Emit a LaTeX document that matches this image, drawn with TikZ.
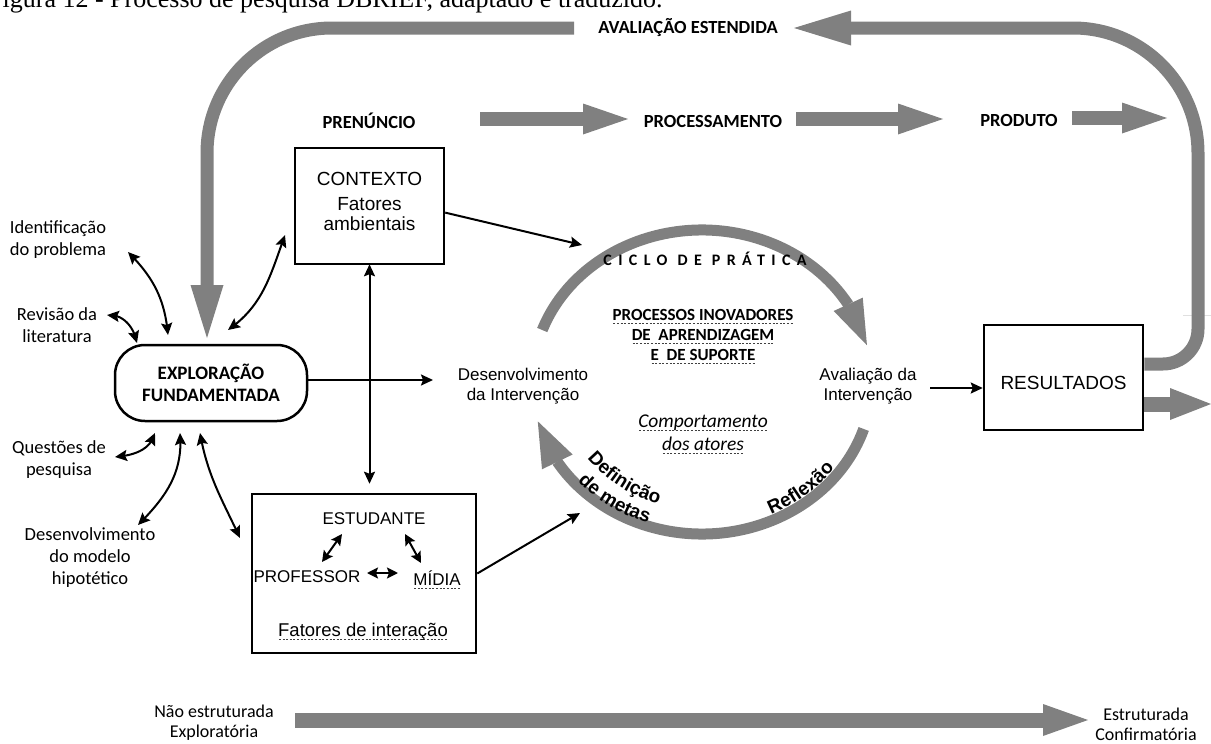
\documentclass[tikz,border=0pt]{standalone}
\usepackage{fontspec}
\setmainfont{Carlito}
\newfontfamily\arialf{Liberation Sans}
\newfontfamily\serifcap{Liberation Serif}
\newfontfamily\spacedf{Carlito}[LetterSpace=40]
\usetikzlibrary{arrows.meta,bending,decorations.text}

\definecolor{bandgray}{RGB}{128,128,128}
\newcommand\sz[2]{\fontsize{#1}{#2}\selectfont}
% dashed underline, as left by a spell checker
\newcommand\dashul[1]{\setbox0=\hbox{#1}\leavevmode\rlap{\raisebox{-3.2pt}{\color{black!75}\hbox to \wd0{\xleaders\hbox to 3.6pt{\hss\rule{2pt}{0.9pt}\hss}\hfill}}}\box0}

\tikzset{
  every node/.style={inner sep=0pt},
  sidelbl/.style={align=center, font=\sz{18.5}{22}},
  headlbl/.style={font=\bfseries\sz{18.5}{22}},
  sanslbl/.style={align=center, font=\arialf\sz{17}{20}},
  boxframe/.style={draw, line width=2.5pt},
  graybar/.style={draw=bandgray, line width=14pt},
  bigtip/.style={-{Triangle[length=45pt,width=31pt,line width=0pt]}},
  linkarrow/.style={line width=2pt, -{Stealth[length=12pt,width=11pt,inset=2pt]}},
  duallink/.style={line width=2pt, {Stealth[length=12pt,width=11pt,inset=2pt]}-{Stealth[length=12pt,width=11pt,inset=2pt]}},
  smalllink/.style={line width=2pt, {Stealth[length=11pt,width=11pt,inset=2pt]}-{Stealth[length=11pt,width=11pt,inset=2pt]}},
  arctext/.style={decorate, decoration={text along path, text align=center, text={|\arialf\bfseries\sz{19}{20}|#1}}}
}

\begin{document}
\begin{tikzpicture}[x=1pt,y=1pt]
\useasboundingbox (0,0) rectangle (1211,-744);

% caption line, partly above the page
\begin{scope}
  \clip (0,0) rectangle (1211,-744);
  \node[anchor=base west, font=\serifcap\sz{26}{30}] (caption) at (-12,-8)
    {Figura 12 - Processo de pesquisa DBRIEF, adaptado e traduzido.};
\end{scope}

% ---------- boxes ----------
\node[boxframe, rounded corners=30pt, minimum width=192pt, minimum height=76pt,
      align=center, font=\bfseries\sz{19}{22}] (expl) at (211,-383) {EXPLORAÇÃO\\FUNDAMENTADA};

\node[boxframe, minimum width=149pt, minimum height=116pt] (ctx) at (369.5,-206) {};
\node[font=\arialf\sz{19}{22}] (ctxt) at (369.5,-179) {CONTEXTO};
\node[align=center, font=\arialf\sz{19}{20}] (ctxf) at (369.5,-214) {Fatores\\ambientais};

\node[boxframe, minimum width=224pt, minimum height=159pt] (inter) at (364,-573.5) {};
\node[font=\arialf\sz{17}{20}] (stud) at (374,-519) {ESTUDANTE};
\node[font=\arialf\sz{17}{20}] (prof) at (307,-577) {PROFESSOR};
\node[font=\arialf\sz{17}{20}] (midia) at (437,-580) {\dashul{MÍDIA}};
\node[font=\arialf\sz{18.5}{20}] (fint) at (363,-632) {\dashul{Fatores de interação}};

\node[boxframe, minimum width=159pt, minimum height=105pt] (res) at (1063.5,-377.5) {};
\node[font=\arialf\sz{19}{22}] (rest) at (1063.5,-383) {RESULTADOS};

% ---------- stage labels ----------
\node[headlbl] (pren) at (369,-121) {PRENÚNCIO};
\node[headlbl] (proc) at (713,-121.5) {PROCESSAMENTO};
\node[headlbl] (prod) at (1019,-121) {PRODUTO};
\node[headlbl] (aval) at (688,-28) {AVALIAÇÃO ESTENDIDA};

% ---------- side labels ----------
\node[sidelbl] (idp) at (58,-240) {Identificação\\do problema};
\node[sidelbl] (revl) at (57,-325) {Revisão da\\literatura};
\node[sidelbl] (qp) at (59,-460) {Questões de\\pesquisa};
\node[sidelbl] (dmh) at (90,-558) {Desenvolvimento\\do modelo\\hipotético};

% ---------- cycle ----------
\coordinate (cyc) at (702,-382);
\draw[bandgray, line width=11pt, -{Triangle[length=45pt,width=32pt,line width=0pt]}]
  ([shift={(160:170pt and 152pt)}]cyc) arc[start angle=160, end angle=14, x radius=170pt, y radius=152pt];
\draw[bandgray, line width=11pt, -{Triangle[length=45pt,width=34pt,line width=0pt]}]
  ([shift={(-18:170pt and 152pt)}]cyc) arc[start angle=-18, end angle=-165, x radius=170pt, y radius=152pt];

\node[font=\spacedf\bfseries\sz{16}{18}] (ciclo) at (705,-259) {CICLO DE PRÁTICA};
\node[align=center, font=\bfseries\sz{17}{20}] (pinov) at (703,-337)
  {\dashul{PROCESSOS INOVADORES}\\\dashul{DE\ \ APRENDIZAGEM}\\\dashul{E\ \ DE SUPORTE}};
\node[align=center, font=\itshape\sz{19.5}{23}] (comp) at (703,-434)
  {\dashul{Comportamento}\\\dashul{dos atores}};
\node[sanslbl] (devi) at (523,-386) {Desenvolvimento\\da Intervenção};
\node[sanslbl] (avi) at (868,-386) {Avaliação da\\Intervenção};

\path[arctext={Definição}]
  ([shift={(204:143pt and 128pt)}]cyc) arc[start angle=204, end angle=264, x radius=143pt, y radius=128pt];
\path[arctext={de metas}]
  ([shift={(206:167pt and 149pt)}]cyc) arc[start angle=206, end angle=266, x radius=167pt, y radius=149pt];
\path[arctext={Reflexão}]
  ([shift={(280:164pt and 146pt)}]cyc) arc[start angle=280, end angle=340, x radius=164pt, y radius=146pt];

% ---------- gray stage arrows ----------
\coordinate (g1s) at (480,-119);  \coordinate (g1e) at (628,-119);
\coordinate (g2s) at (796,-119);  \coordinate (g2e) at (943,-119);
\coordinate (g3s) at (1072,-118); \coordinate (g3e) at (1167,-118);
\draw[graybar, bigtip] (g1s) -- (g1e);
\draw[graybar, bigtip] (g2s) -- (g2e);
\draw[graybar, bigtip] (g3s) -- (g3e);

% extended evaluation loop
\draw[black!12, line width=0.8pt] (1183,-315) -- (1211,-315);
\coordinate (loopend) at (794,-28);
\draw[bandgray, line width=13pt, -{Triangle[length=57pt,width=35pt,line width=0pt]}]
  (res.east |- 0,-364) -- (1163,-364) arc[start angle=-90, end angle=0, radius=35pt]
  -- (1198,-153) arc[start angle=0, end angle=90, radius=125pt] -- (loopend);
\coordinate (loopback) at (574,-28);
\coordinate (fbin) at (207,-338);
\draw[bandgray, line width=13pt, -{Triangle[length=53pt,width=33pt,line width=0pt]}]
  (loopback) -- (332,-28) arc[start angle=90, end angle=180, radius=125pt] -- (fbin);

% outcome arrow
\coordinate (outend) at (1211,-404);
\draw[bandgray, line width=15pt, -{Triangle[length=41pt,width=32pt,line width=0pt]}]
  (res.east |- outend) -- (outend);

% ---------- black connectors ----------
\coordinate (devin) at (433,-380);
\draw[linkarrow] (expl.east |- devin) -- (devin);
\coordinate (cycin) at (582,-245);
\draw[linkarrow] (ctx.-5) -- (cycin);
\coordinate (cycin2) at (580,-513);
\draw[linkarrow] (inter.east) -- (cycin2);
\coordinate (avout) at (930,-388);
\draw[linkarrow] (avout) -- (avout -| res.west);
\draw[duallink, shorten <=-1pt, shorten >=9pt] (ctx.south) -- (ctx.south |- inter.north);

% curved links round the exploration box
\coordinate (a1) at (128,-252); \coordinate (b1) at (168,-335);
\draw[duallink] (a1) to[out=-45, in=95] (b1);
\coordinate (a2) at (107,-315); \coordinate (b2) at (137,-343);
\draw[duallink] (a2) to[out=5, in=100] (b2);
\coordinate (a3) at (285,-235); \coordinate (b3) at (228,-330);
\draw[duallink] (a3) to[out=-110, in=35] (b3);
\coordinate (a4) at (115,-457); \coordinate (b4) at (155,-433);
\draw[duallink] (a4) to[out=5, in=-105] (b4);
\coordinate (a5) at (138,-525); \coordinate (b5) at (180,-433);
\draw[duallink] (a5) to[out=45, in=-85] (b5);
\coordinate (a6) at (200,-433); \coordinate (b6) at (240,-538);
\draw[duallink] (a6) to[out=-80, in=115] (b6);

% links inside the interaction box
\coordinate (ep1) at (342,-534); \coordinate (ep2) at (322,-562);
\draw[smalllink] (ep1) -- (ep2);
\coordinate (em1) at (405,-534); \coordinate (em2) at (421,-563);
\draw[smalllink] (em1) -- (em2);
\coordinate (pm1) at (367,-573); \coordinate (pm2) at (398,-573);
\draw[smalllink] (pm1) -- (pm2);

% ---------- structure scale ----------
\node[align=center, font=\sz{18}{20}] (nonstr) at (214,-723) {Não estruturada\\Exploratória};
\node[align=center, font=\sz{18}{20}] (estr) at (1146,-724) {Estruturada\\Confirmatória};
\coordinate (sc1) at (295,-720); \coordinate (sc2) at (1088,-720);
\draw[bandgray, line width=15pt, -{Triangle[length=45pt,width=32pt,line width=0pt]}] (sc1) -- (sc2);
\end{tikzpicture}
\end{document}
